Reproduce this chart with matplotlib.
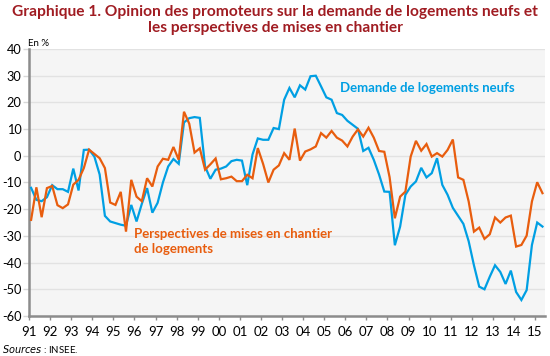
import matplotlib
matplotlib.use("Agg")
import matplotlib.pyplot as plt
import numpy as np

plt.rcParams['font.family'] = ['Lato', 'DejaVu Sans']
plt.rcParams['axes.unicode_minus'] = False

# Quarterly balances of opinion, 1991 Q1 to 2015 Q2
demande = [-12, -16.5, -17, -15.5, -11, -12.5, -12.5, -13.5,
           -4.8, -13, 2.2, 2.3, -0.3, -7, -22.5, -24.6,
           -25.2, -25.8, -26.2, -18.4, -24.6, -18, -12.1, -21.3,
           -17.6, -10, -4, -1.2, -3, 12.5, 14.1, 14.5,
           14.2, -4, -8.6, -5.2, -4.8, -4, -2, -1.5,
           -1.8, -11, 0.5, 6.5, 6, 6, 10.4, 10,
           21, 25.4, 21.9, 26.4, 24.8, 29.8, 30, 26,
           21.9, 21, 16, 15.3, 13.1, 11.6, 10.1, 1.8,
           3, -1.5, -7, -13.4, -13.5, -33.5, -26.5, -14.6,
           -11.5, -9.6, -4.5, -8.1, -6.5, -0.9, -10.9, -14.6,
           -19.5, -22.5, -25.5, -32, -41, -49, -50, -45.3,
           -41, -43.5, -48, -43, -51, -54, -50.3, -33.4,
           -25, -26.5]

perspectives = [-24, -11.8, -23, -12.1, -11.3, -18.5, -19.6, -18.2,
                -10.8, -9, -4.6, 2.3, 0.7, -0.9, -4.6, -17.5,
                -18.4, -13.5, -28.4, -9, -15.3, -17, -8.4, -11.5,
                -4, -1.1, -1.5, 3.3, -1.5, 16.5, 12, 1.2,
                2.8, -5.2, -3.2, -1, -8.8, -8.4, -7.8, -9.5,
                -9.5, -7.1, -8.4, 2.9, -3, -10, -5.2, -3.6,
                1, -1.5, 10.2, -1.8, 1.6, 2.4, 3.5, 8.5,
                6.8, 9.3, 6.8, 5.7, 3.5, 7.2, 9.9, 7.2,
                10.5, 6.8, 1.8, 1.5, -8, -23.4, -15.3, -13.4,
                -0.3, 5.6, 1.9, 4.4, -0.3, 1, -0.3, 2.2,
                6.1, -8.1, -9, -17.1, -28.4, -26.9, -31.1, -29.4,
                -23.1, -25, -23.1, -22.4, -34, -33.4, -29.9, -17.1,
                -9.9, -14]

years = list(range(1991, 2016))
year_labels = ["%02d" % (y % 100) for y in years]

blue = '#009FE3'
orange = '#E85D0E'
grey = '#8C8C8C'

t = 1991.1 + np.arange(len(demande)) / 4.0

fig = plt.figure(figsize=(5.5, 3.56), dpi=100)
ax = fig.add_axes([29/550, 1 - 316/356, 516/550, 267/356])
ax.set_facecolor('#F5F5F5')

ax.plot(t, demande, color=blue, lw=1.6, solid_joinstyle='miter', zorder=3)
ax.plot(t, perspectives, color=orange, lw=1.6, solid_joinstyle='miter', zorder=3)

ax.set_ylim(-60, 40)
ax.set_xlim(1991, 2015.47)
ax.set_yticks(range(-60, 41, 10))
ax.set_yticklabels([str(v) for v in range(-60, 41, 10)], fontsize=9.2)
ax.set_xticks(years)
ax.set_xticklabels(year_labels, fontsize=9.5)
ax.grid(axis='y', color='#E2E2E2', lw=1)
ax.set_axisbelow(True)

for s in ['top', 'right']:
    ax.spines[s].set_visible(False)
for s in ['left', 'bottom']:
    ax.spines[s].set_color(grey)
    ax.spines[s].set_linewidth(1.8)
ax.tick_params(axis='x', length=3, width=1, color=grey, pad=4)
ax.tick_params(axis='y', length=4.5, width=1, color='#D8D8D8', pad=1)

ax.text(1996.0, -32, "Perspectives de mises en chantier\nde logements", color=orange,
        fontsize=9.5, fontweight='bold', va='center', ha='left', linespacing=1.3)
ax.text(2005.75, 25.5, "Demande de logements neufs", color=blue,
        fontsize=9.5, fontweight='bold', va='center', ha='left')

fig.text(0.5, 1 - 20/356, "Graphique 1. Opinion des promoteurs sur la demande de logements neufs et\nles perspectives de mises en chantier",
         ha='center', va='center', fontsize=11.2, fontweight='bold', color='#A01C22', linespacing=1.15)
fig.text(28/550, 1 - 43/356, "En %", fontsize=7, ha='left', va='center')
fig.text(2/550, 1 - 349/356, "$\\it{Sources}$ : INSEE.", fontsize=7, ha='left', va='center')

fig.savefig('out.png', dpi=100)
